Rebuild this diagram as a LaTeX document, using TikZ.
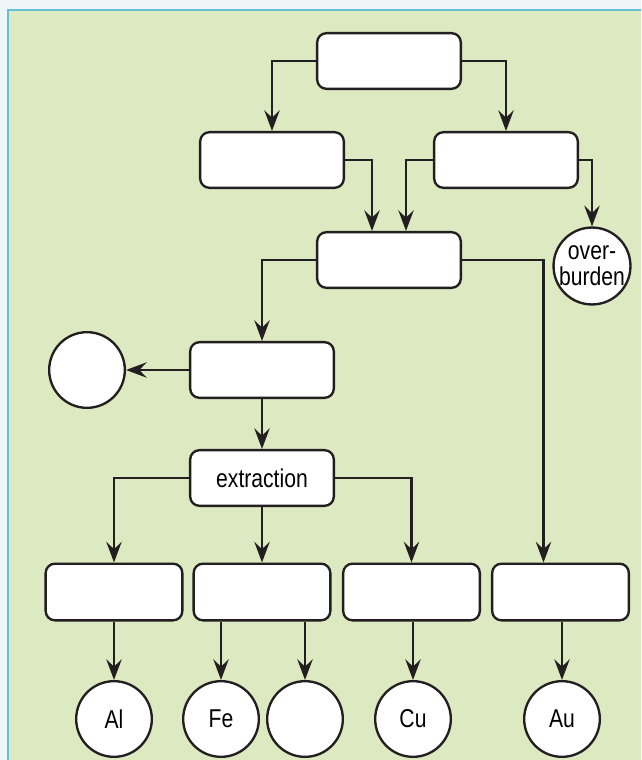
\documentclass[tikz,border=0pt]{standalone}
\usepackage{fontspec}
\setmainfont[FakeStretch=0.82]{Liberation Sans}
\usetikzlibrary{arrows.meta}
\definecolor{paper}{HTML}{EEF6F7}
\definecolor{panel}{HTML}{DCE9C1}
\definecolor{rim}{HTML}{62C1D7}
\definecolor{ink}{HTML}{231F20}

\begin{document}
\begin{tikzpicture}[x=0.03cm,y=-0.03cm,>={Stealth[length=6.2mm,width=4.6mm,inset=2.2mm]},
  box/.style={draw=ink,line width=2pt,fill=white,rounded corners=2.8mm,
    minimum width=4.31cm,minimum height=1.67cm,inner sep=0pt,
    font=\fontsize{22}{22}\selectfont},
  endbox/.style={box,minimum width=4.1cm,minimum height=1.7cm},
  disc/.style={draw=ink,line width=2pt,fill=white,circle,minimum size=2.27cm,
    inner sep=0pt,align=center,font=\fontsize{22}{22}\selectfont},
  link/.style={->,draw=ink,line width=2.2pt}]
\clip (0,0) rectangle (641,760);
\fill[paper] (0,0) rectangle (641,760);
\draw[rim,fill=panel,line width=1.7pt] (8,10) rectangle (680,800);

% boxes
\node[box] (top) at (389,61) {};
\node[box] (left2) at (272,160) {};
\node[box] (right2) at (506,160) {};
\node[box] (mid) at (389,260) {};
\node[box] (sep) at (262,370) {};
\node[box] (extr) at (262,478) {extraction};
\node[endbox] (bAl) at (114,592) {};
\node[endbox] (bFe) at (262,592) {};
\node[endbox] (bCu) at (411.5,592) {};
\node[endbox] (bAu) at (560.5,592) {};

% circles
\node[disc] (over) at (592,266) {over-\\burden};
\node[disc] (waste) at (87,370) {};
\node[disc] (cAl) at (114,719) {Al};
\node[disc] (cFe) at (221,719) {Fe};
\node[disc] (cX) at (305,719) {};
\node[disc] (cCu) at (413,719) {Cu};
\node[disc] (cAu) at (562,719) {Au};

% connectors
\draw[link] (top.west) -| (left2.north);
\draw[link] (top.east) -| (right2.north);
\draw[link] (left2.east) -| ([xshift=-0.51cm]mid.north);
\draw[link] (right2.west) -| ([xshift=0.51cm]mid.north);
\draw[link] (right2.east) -| (over.north);
\draw[link] (mid.west) -| (sep.north);
\draw[link] (mid.east) -| ([xshift=-0.51cm]bAu.north);
\draw[link] (sep.west) -- (waste.east);
\draw[link] (sep.south) -- (extr.north);
\draw[link] (extr.west) -| (bAl.north);
\draw[link] (extr.south) -- (bFe.north);
\draw[link] (extr.east) -| (bCu.north);
\draw[link] (bAl.south) -- (cAl.north);
\draw[link] (bFe.south -| cFe.north) -- (cFe.north);
\draw[link] (bFe.south -| cX.north) -- (cX.north);
\draw[link] (bCu.south -| cCu.north) -- (cCu.north);
\draw[link] (bAu.south -| cAu.north) -- (cAu.north);
\end{tikzpicture}
\end{document}
